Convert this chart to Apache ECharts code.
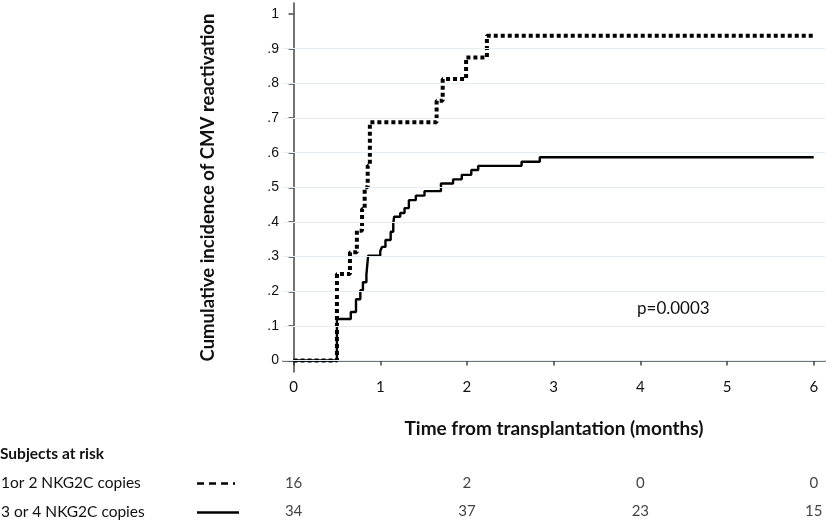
<!DOCTYPE html>
<html>
<head>
<meta charset="UTF-8">
<title>Cumulative incidence of CMV reactivation</title>
<script src="https://cdn.jsdelivr.net/npm/echarts@6/dist/echarts.min.js"></script>
<style>
  html, body { margin: 0; padding: 0; background: #fff; }
  #chart { width: 829px; height: 525px; }
</style>
</head>
<body>
<div id="chart"></div>
<script>
// step points [months, cumulative incidence]
var lowCopies = [
  [0, 0], [0.5, 0.25], [0.65, 0.3125], [0.73, 0.375], [0.79, 0.4375],
  [0.82, 0.5], [0.855, 0.5625], [0.88, 0.6875], [1.65, 0.75], [1.72, 0.8125],
  [1.99, 0.875], [2.23, 0.9375], [6, 0.9375]
];
var highCopies = [
  [0, 0], [0.5, 0.12], [0.66, 0.14], [0.72, 0.177], [0.77, 0.203], [0.80, 0.226],
  [0.84, 0.248], [0.86, 0.303], [1.0, 0.316], [1.02, 0.328], [1.06, 0.348],
  [1.12, 0.372], [1.15, 0.396], [1.16, 0.415], [1.23, 0.426], [1.28, 0.44],
  [1.33, 0.463], [1.41, 0.476], [1.51, 0.489], [1.70, 0.511], [1.84, 0.523],
  [1.94, 0.536], [2.05, 0.55], [2.13, 0.562], [2.63, 0.574], [2.84, 0.587], [6, 0.587]
];
var xTicks = [0, 1, 2, 3, 4, 5, 6];
var yTicks = [0, 0.1, 0.2, 0.3, 0.4, 0.5, 0.6, 0.7, 0.8, 0.9, 1];
var gridValues = [0, 0.1, 0.2, 0.3, 0.4, 0.5, 0.6, 0.7, 0.8, 0.9];

// subjects at risk table
var riskTimes = [0, 2, 4, 6];
var riskLow = [16, 2, 0, 0];
var riskHigh = [34, 37, 23, 15];
var riskRows = ['1or 2 NKG2C copies', '3 or 4 NKG2C copies'];

var font = 'Lato, "Open Sans", sans-serif';
var myChart = echarts.init(document.getElementById('chart'));

var option = {
  animation: false,
  grid: [
    { left: 283, right: 4, top: 3, bottom: 153 },
    { left: 283, right: 4, top: 469, height: 58 }
  ],
  xAxis: [
    {
      gridIndex: 0, type: 'value', min: -0.122, max: 6.13,
      axisLine: { show: true, lineStyle: { color: '#444', width: 1.5 } },
      axisTick: { show: true, customValues: xTicks, length: 5, lineStyle: { color: '#444', width: 1.5 } },
      axisLabel: { customValues: xTicks, color: '#111', fontFamily: font, fontSize: 15, margin: 8 },
      splitLine: { show: false },
      name: 'Time from transplantation (months)', nameLocation: 'middle', nameGap: 47,
      nameTextStyle: { color: '#111', fontFamily: font, fontWeight: 'bold', fontSize: 19 }
    },
    { gridIndex: 1, type: 'value', min: -0.122, max: 6.13, show: false }
  ],
  yAxis: [
    {
      gridIndex: 0, type: 'value', min: -0.033, max: 1.032,
      axisLine: { show: true, lineStyle: { color: '#444', width: 1.5 } },
      axisTick: { show: true, customValues: yTicks, length: 5, lineStyle: { color: '#444', width: 1.5 } },
      axisLabel: {
        customValues: yTicks, color: '#111', fontFamily: '"Liberation Sans", Arial, sans-serif', fontSize: 14, margin: 4,
        formatter: function (v) { return (v === 0 || v === 1) ? String(v) : String(v).slice(1); }
      },
      splitLine: { show: false },
      name: 'Cumulative incidence of CMV reactivation', nameLocation: 'middle', nameGap: 65, nameRotate: 90,
      nameTextStyle: { color: '#111', fontFamily: font, fontWeight: 'bold', fontSize: 18.5 }
    },
    { gridIndex: 1, type: 'category', data: riskRows, inverse: true, show: false }
  ],
  series: [
    {
      type: 'line', xAxisIndex: 0, yAxisIndex: 0, data: [], silent: true,
      markLine: {
        silent: true, symbol: 'none', label: { show: false },
        lineStyle: { color: '#e6eef3', width: 1, type: 'solid' },
        data: gridValues.map(function (v) { return { yAxis: v }; })
      }
    },
    {
      name: riskRows[1], type: 'line', step: 'end', data: highCopies, symbol: 'none',
      lineStyle: { color: '#000', width: 2.4 }, z: 3
    },
    {
      name: riskRows[0], type: 'line', step: 'end', data: lowCopies, symbol: 'none',
      lineStyle: { color: '#000', width: 4, type: [4, 3], cap: 'butt' }, z: 4
    },
    {
      type: 'scatter', xAxisIndex: 1, yAxisIndex: 1, symbolSize: 0,
      data: riskTimes.map(function (t) { return [t, 0]; }),
      label: { show: true, position: 'inside', color: '#111', fontFamily: font, fontSize: 15,
        formatter: function (p) { return String(riskLow[p.dataIndex]); } }
    },
    {
      type: 'scatter', xAxisIndex: 1, yAxisIndex: 1, symbolSize: 0,
      data: riskTimes.map(function (t) { return [t, 1]; }),
      label: { show: true, position: 'inside', color: '#111', fontFamily: font, fontSize: 15,
        formatter: function (p) { return String(riskHigh[p.dataIndex]); } }
    }
  ],
  graphic: [
    { type: 'text', left: 637, top: 300, style: { text: 'p=0.0003', fill: '#111', font: '17px ' + font } },
    { type: 'text', left: 0, top: 446, style: { text: 'Subjects at risk', fill: '#111', font: 'bold 15.5px ' + font } },
    { type: 'text', left: 1, top: 475, style: { text: riskRows[0], fill: '#111', font: '15.5px ' + font } },
    { type: 'text', left: 1, top: 504, style: { text: riskRows[1], fill: '#111', font: '15.5px ' + font } },
    { type: 'line', shape: { x1: 197, y1: 483.5, x2: 235, y2: 483.5 },
      style: { stroke: '#000', lineWidth: 2.5, lineDash: [7, 5] } },
    { type: 'line', shape: { x1: 197, y1: 512.5, x2: 239, y2: 512.5 },
      style: { stroke: '#000', lineWidth: 2.5 } }
  ]
};

myChart.setOption(option);
</script>
</body>
</html>
